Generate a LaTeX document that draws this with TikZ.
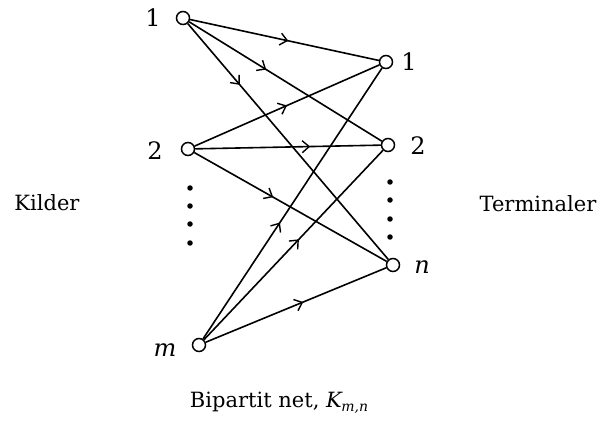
\documentclass[tikz,border=0pt]{standalone}
\usepackage{fontspec}
\setmainfont{DejaVu Serif}
\usetikzlibrary{arrows.meta,decorations.markings}
\tikzset{
  vtx/.style={circle,draw,fill=white,line width=1.5pt,minimum size=13pt,inner sep=0pt},
  lbl/.style={font=\fontsize{21}{24}\selectfont,inner sep=0pt},
  num/.style={font=\fontsize{24}{28}\selectfont,inner sep=0pt},
  edge/.style={line width=1.6pt,postaction={decorate},
    decoration={markings,mark=at position #1 with {\arrow{Straight Barb[length=7pt,width=12pt,line width=1.4pt]}}}},
  dotmark/.style={circle,fill=black,inner sep=0pt,minimum size=5.5pt}
}
\begin{document}
\begin{tikzpicture}[x=1pt,y=-1pt]
\useasboundingbox (0,0) rectangle (600,425);
% left vertices
\node[vtx] (s1) at (183,18) {};
\node[vtx] (s2) at (188,149) {};
\node[vtx] (sm) at (199,345) {};
% right vertices
\node[vtx] (t1) at (386,62) {};
\node[vtx] (t2) at (388,145) {};
\node[vtx] (tn) at (393,265) {};
% edges
\draw[edge=0.52] (s1) -- (t1);
\draw[edge=0.40] (s1) -- (t2);
\draw[edge=0.26] (s1) -- (tn);
\draw[edge=0.50] (s2) -- (t1);
\draw[edge=0.62] (s2) -- (t2);
\draw[edge=0.41] (s2) -- (tn);
\draw[edge=0.43] (sm) -- (t1);
\draw[edge=0.53] (sm) -- (t2);
\draw[edge=0.54] (sm) -- (tn);
% vertex labels
\node[num] (ls1) at (153,18) {1};
\node[num] (ls2) at (155,151) {2};
\node[num] (lsm) at (165,350) {\itshape m};
\node[num] (lt1) at (409,62) {1};
\node[num] (lt2) at (418,146) {2};
\node[num] (ltn) at (422,267) {\itshape n};
% dots
\node[dotmark] (dl1) at (190,188) {};
\node[dotmark] (dl2) at (190,206) {};
\node[dotmark] (dl3) at (190,224) {};
\node[dotmark] (dl4) at (190,243) {};
\node[dotmark] (dr1) at (390,182) {};
\node[dotmark] (dr2) at (390,200) {};
\node[dotmark] (dr3) at (390,219) {};
\node[dotmark] (dr4) at (390,237) {};
% side texts
\node[lbl] (kil) at (47,203) {Kilder};
\node[lbl] (ter) at (538,204) {Terminaler};
\node[lbl] (cap) at (279,403) {Bipartit net, \itshape K\kern-0.5pt\raisebox{-4pt}{\fontsize{14}{16}\selectfont m,n}};
\end{tikzpicture}
\end{document}
